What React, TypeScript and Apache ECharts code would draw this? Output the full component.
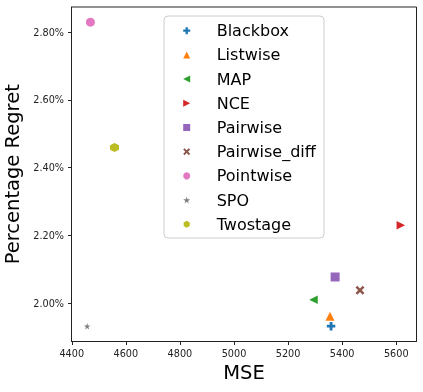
import React, { useEffect, useRef } from "react";
import * as echarts from "echarts";

const methods = ["Blackbox", "Listwise", "MAP", "NCE", "Pairwise", "Pairwise_diff", "Pointwise", "SPO", "Twostage"];
const mseValues = [5359, 5355, 5294, 5617, 5374, 5466, 4469, 4457, 4558];
const regretValues = [1.932, 1.961, 2.010, 2.230, 2.077, 2.038, 2.829, 1.9315, 2.459];
const colors = ["#1f77b4", "#ff7f0e", "#2ca02c", "#d62728", "#9467bd", "#8c564b", "#e377c2", "#7f7f7f", "#bcbd22"];
const xTicks = [4400, 4600, 4800, 5000, 5200, 5400, 5600];
const yTicks = [2.0, 2.2, 2.4, 2.6, 2.8];

const symbols = [
  "path://M2,0H4V2H6V4H4V6H2V4H0V2H2Z",
  "path://M5,0L10,10L0,10Z",
  "path://M0,5L10,0L10,10Z",
  "path://M10,5L0,0L0,10Z",
  "path://M0,0H10V10H0Z",
  "path://M2,0L5,3L8,0L10,2L7,5L10,8L8,10L5,7L2,10L0,8L3,5L0,2Z",
  "circle",
  "path://M50,0L61.8,35.4L99,35.4L69,57.3L80.4,92.7L50,70.8L19.6,92.7L31,57.3L1,35.4L38.2,35.4Z",
  "path://M5,0L9.33,2.5L9.33,7.5L5,10L0.67,7.5L0.67,2.5Z",
];
const sizes = [8.5, 9, 8.5, 8.5, 9, 9, 9, 6.5, 9];

const FONT = "DejaVu Sans";

export default function App() {
  const ref = useRef<HTMLDivElement>(null);
  useEffect(() => {
    if (!ref.current) return;
    const chart = echarts.init(ref.current, undefined, { renderer: "svg" });
    const xr = Math.max(...mseValues) - Math.min(...mseValues);
    const yr = Math.max(...regretValues) - Math.min(...regretValues);
    const xMin = Math.min(...mseValues) - 0.05 * xr;
    const xMax = Math.max(...mseValues) + 0.05 * xr;
    const yMin = Math.min(...regretValues) - 0.05 * yr;
    const yMax = Math.max(...regretValues) + 0.05 * yr;
    chart.setOption({
      animation: false,
      grid: {
        left: 71.5,
        right: 6.5,
        top: 7,
        bottom: 50.5,
        show: true,
        borderColor: "#222",
        borderWidth: 1,
        containLabel: false,
        outerBoundsMode: "none",
      },
      xAxis: {
        type: "value",
        min: xMin,
        max: xMax,
        name: "MSE",
        nameLocation: "middle",
        nameGap: 20,
        nameTextStyle: { fontFamily: FONT, fontSize: 19.5, color: "#000" },
        axisLine: { show: true, lineStyle: { color: "#222", width: 1 } },
        axisTick: { show: true, length: 3.5, customValues: xTicks, lineStyle: { color: "#222" } },
        axisLabel: {
          customValues: xTicks,
          fontFamily: FONT,
          fontSize: 9.7,
          color: "#222",
          margin: 6.5,
          formatter: (v: number) => String(v),
        },
        splitLine: { show: false },
      },
      yAxis: {
        type: "value",
        min: yMin,
        max: yMax,
        name: "Percentage Regret",
        nameLocation: "middle",
        nameGap: 42.5,
        nameTextStyle: { fontFamily: FONT, fontSize: 19.5, color: "#000" },
        axisLine: { show: true, lineStyle: { color: "#222", width: 1 } },
        axisTick: { show: true, length: 3.5, customValues: yTicks, lineStyle: { color: "#222" } },
        axisLabel: {
          customValues: yTicks,
          fontFamily: FONT,
          fontSize: 9.7,
          color: "#222",
          margin: 7.5,
          formatter: (v: number) => v.toFixed(2) + "%",
        },
        splitLine: { show: false },
      },
      legend: {
        orient: "vertical",
        left: 183.2,
        top: 22.7,
        padding: 0,
        itemWidth: 7,
        itemHeight: 7,
        itemGap: 8.2,
        textStyle: { fontFamily: FONT, fontSize: 16, color: "#000", padding: [0, 0, 0, 21.5] },
        data: methods,
      },
      graphic: [
        {
          type: "rect",
          z: 3,
          shape: { x: 164, y: 16, width: 160, height: 222, r: 4 },
          style: { fill: "rgba(255,255,255,0.8)", stroke: "#cccccc", lineWidth: 1 },
        },
      ],
      series: methods.map((m, i) => ({
        type: "scatter",
        name: m,
        symbol: symbols[i],
        symbolSize: sizes[i],
        itemStyle: { color: colors[i], opacity: 1 },
        data: [[mseValues[i], regretValues[i]]],
      })),
    });
    return () => chart.dispose();
  }, []);
  return <div ref={ref} style={{ position: "fixed", left: 0, top: 0, width: 423, height: 392 }} />;
}
